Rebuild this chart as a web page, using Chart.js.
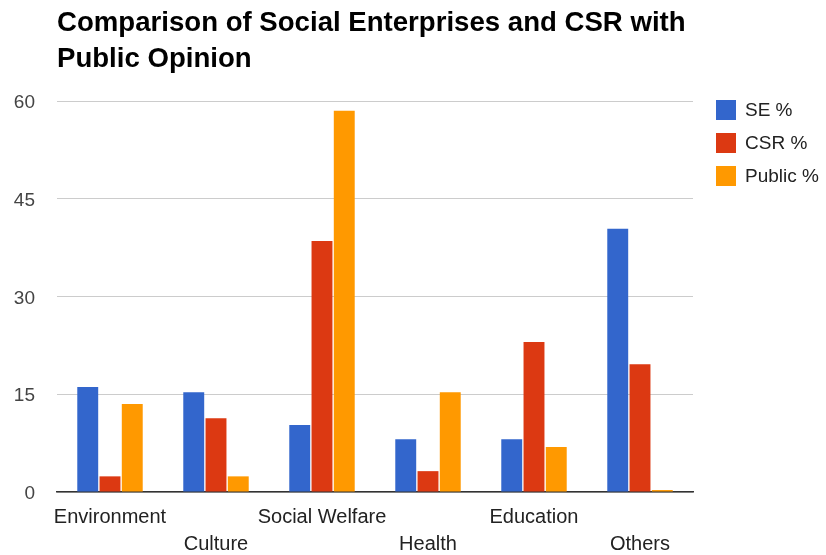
<!DOCTYPE html>
<html>
<head>
<meta charset="utf-8">
<script src="https://cdn.jsdelivr.net/npm/chart.js@4"></script>
<style>
  html, body { margin: 0; padding: 0; background: #fff; }
  #wrap { position: relative; width: 826px; height: 555px; overflow: hidden; }
  #c { position: absolute; left: 0; top: 0; }
  #title { position: absolute; left: 57px; top: 4px; font: bold 27.6px Arial, "Liberation Sans", sans-serif; line-height: 36px; color: #000; white-space: nowrap; }
  #legend { position: absolute; left: 716px; top: 100px; font: 19px Arial, "Liberation Sans", sans-serif; color: #222; }
  .item { position: relative; height: 20px; margin-bottom: 13px; }
  .box { position: absolute; left: 0; top: 0; width: 20px; height: 20px; }
  .lbl { position: absolute; left: 29px; top: 0; line-height: 20px; white-space: nowrap; }
</style>
</head>
<body>
<div id="wrap">
  <canvas id="c" width="826" height="555"></canvas>
  <div id="title">Comparison of Social Enterprises and CSR with<br>Public Opinion</div>
  <div id="legend"></div>
</div>
<script>
const categories = ["Environment", "Culture", "Social Welfare", "Health", "Education", "Others"];
const seriesNames = ["SE %", "CSR %", "Public %"];
const seValues = [16.1, 15.3, 10.3, 8.1, 8.1, 40.4];
const csrValues = [2.4, 11.3, 38.5, 3.2, 23.0, 19.6];
const publicValues = [13.5, 2.4, 58.5, 15.3, 6.9, 0.3];
const yTicks = [0, 15, 30, 45, 60];
const colors = ["#3366CC", "#DC3912", "#FF9900"];

const seriesValues = [seValues, csrValues, publicValues];

// HTML legend
const legend = document.getElementById('legend');
seriesNames.forEach((name, i) => {
  const it = document.createElement('div');
  it.className = 'item';
  const b = document.createElement('div');
  b.className = 'box';
  b.style.background = colors[i];
  const l = document.createElement('div');
  l.className = 'lbl';
  l.textContent = name;
  it.appendChild(b); it.appendChild(l);
  legend.appendChild(it);
});

new Chart(document.getElementById('c'), {
  type: 'bar',
  data: {
    labels: categories,
    datasets: seriesNames.map((name, i) => ({
      label: name,
      data: seriesValues[i],
      backgroundColor: colors[i],
      borderWidth: 0,
      categoryPercentage: 0.63,
      barPercentage: 0.94
    }))
  },
  options: {
    responsive: false,
    animation: false,
    devicePixelRatio: 1,
    layout: { padding: { left: 0, right: 133, top: 101, bottom: 0 } },
    plugins: {
      legend: { display: false },
      title: { display: false },
      tooltip: { enabled: false }
    },
    scales: {
      x: {
        grid: { display: false, drawTicks: false },
        border: { display: true, color: '#333', width: 1.5 },
        ticks: {
          autoSkip: false,
          maxRotation: 0,
          minRotation: 0,
          padding: 12,
          color: '#222',
          font: { family: 'Arial, "Liberation Sans", sans-serif', size: 20, lineHeight: 1.35 },
          callback: function(value, index) {
            const lab = categories[index];
            return index % 2 === 1 ? ['', lab] : lab;
          }
        },
        afterFit: function(scale) { scale.height = 63; }
      },
      y: {
        min: 0,
        max: 60,
        afterBuildTicks: function(scale) { scale.ticks = yTicks.map(v => ({ value: v })); },
        grid: { color: '#cccccc', lineWidth: 1, drawTicks: false },
        border: { display: false },
        ticks: {
          padding: 22,
          labelOffset: 2,
          color: '#444',
          font: { family: 'Arial, "Liberation Sans", sans-serif', size: 19 }
        },
        afterFit: function(scale) { scale.width = 57; }
      }
    }
  }
});
</script>
</body>
</html>
